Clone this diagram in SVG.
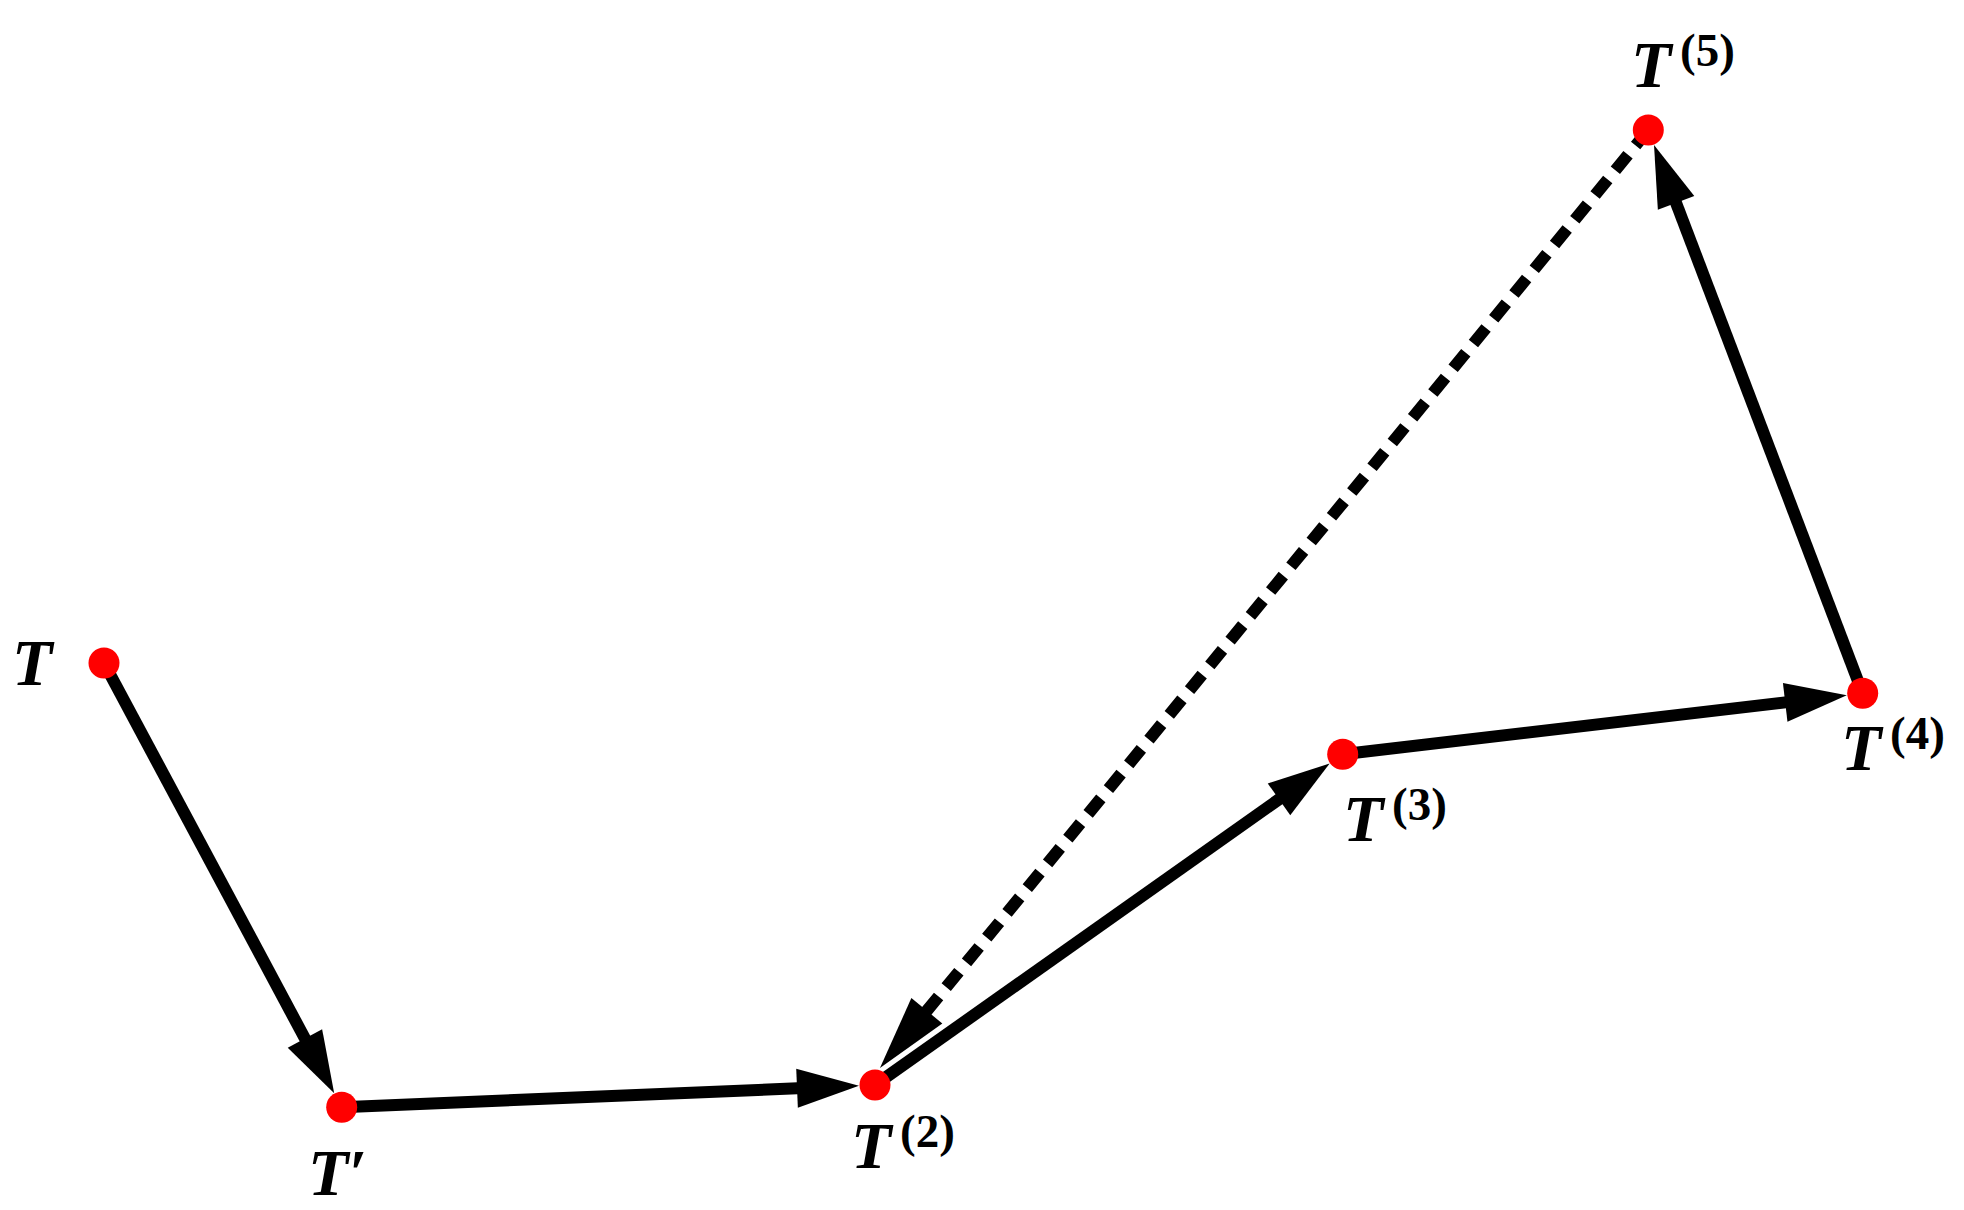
<svg xmlns="http://www.w3.org/2000/svg" width="1964" height="1210" viewBox="0 0 1964 1210">
<style>
.edge{stroke:#000;stroke-width:12;fill:none;stroke-linecap:butt}
.dash{stroke-dasharray:20 12}
.pt{fill:#ff0000}
.lbl{font-family:"Liberation Serif","DejaVu Serif",serif;font-weight:bold;font-style:italic;font-size:66px;fill:#000}
.sup{font-family:"Liberation Serif","DejaVu Serif",serif;font-weight:bold;font-size:47px;fill:#000}
</style>
<defs>
<marker id="arr" markerUnits="userSpaceOnUse" viewBox="0 -20 62 40" refX="30" refY="0" markerWidth="62" markerHeight="40" orient="auto" overflow="visible">
<path d="M0,-19.5 L62,0 L0,19.5 Z" fill="#000"/>
</marker>
<marker id="arrL" markerUnits="userSpaceOnUse" viewBox="0 -20 74 40" refX="34" refY="0" markerWidth="74" markerHeight="40" orient="auto" overflow="visible">
<path d="M0,-20 L74,0 L0,20 Z" fill="#000"/>
</marker>
</defs>
<rect width="1964" height="1210" fill="#fff"/>
<g id="connectors">
<path class="edge" d="M104,663 L319.1,1065.0" marker-end="url(#arr)"/>
<path class="edge" d="M341.7,1107.3 L827.0,1087.0" marker-end="url(#arr)"/>
<path class="edge" d="M875,1085 L1303.5,782.0" marker-end="url(#arr)"/>
<path class="edge" d="M1342.7,754.3 L1815.0,698.9" marker-end="url(#arr)"/>
<path class="edge" d="M1862.7,693.3 L1665.4,174.9" marker-end="url(#arr)"/>
<path class="edge dash" d="M1648.3,130 L905.3,1037.1" marker-end="url(#arrL)"/>
</g>
<g id="node-T"><circle class="pt" cx="104" cy="663" r="15.5"/><text class="lbl" x="12" y="685">T</text></g>
<g id="node-Tprime"><circle class="pt" cx="341.7" cy="1107.3" r="15.5"/><text class="lbl" x="308" y="1195">T′</text></g>
<g id="node-T2"><circle class="pt" cx="875" cy="1085" r="15.5"/><text class="lbl" x="851" y="1168">T</text><text class="sup" x="900" y="1147">(2)</text></g>
<g id="node-T3"><circle class="pt" cx="1342.7" cy="754.3" r="15.5"/><text class="lbl" x="1343" y="841">T</text><text class="sup" x="1392" y="820">(3)</text></g>
<g id="node-T4"><circle class="pt" cx="1862.7" cy="693.3" r="15.5"/><text class="lbl" x="1841" y="770">T</text><text class="sup" x="1890" y="749">(4)</text></g>
<g id="node-T5"><circle class="pt" cx="1648.3" cy="130" r="15.5"/><text class="lbl" x="1631" y="87">T</text><text class="sup" x="1680" y="66">(5)</text></g>
</svg>
